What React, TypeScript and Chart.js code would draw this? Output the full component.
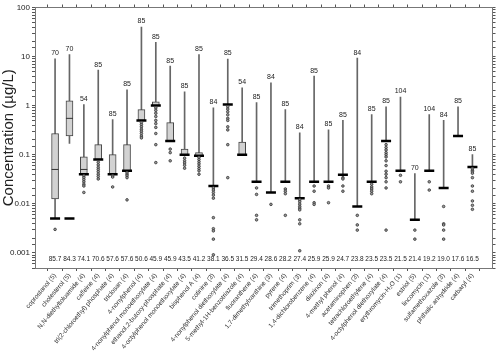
import React, { useEffect, useRef } from 'react';
import { Chart, registerables } from 'chart.js';
Chart.register(...registerables);

const categories = [
  'coprostanol (5)', 'cholesterol (5)', 'N,N-diethyltoluamide (4)', 'caffeine (4)',
  'tri(2-chloroethyl) phosphate (4)', 'triclosan (4)', '4-nonylphenol (4)',
  '4-nonylphenol monoethoxylate (4)', 'ethanol,2-butoxy-phosphate (4)',
  '4-octylphenol monoethoxylate (4)', 'bisphenol A (4)', 'cotinine (3)',
  '4-nonylphenol diethoxylate (4)', '5-methyl-1H-benzotriazole (4)', 'fluoranthene (4)',
  '1,7-dimethylxanthine (3)', 'pyrene (4)', 'trimethoprim (3)', '1,4-dichlorobenzene (4)',
  'diazinon (4)', '4-methyl phenol (4)', 'acetaminophen (3)', 'tetrachloroethylene (4)',
  '4-octylphenol diethoxylate (4)', 'erythromycin-H\u2082O (1)', 'estriol (5)',
  'lincomycin (1)', 'sulfamethoxazole (3)', 'phthalic anhydride (4)', 'carbaryl (4)',
];

const percentDetected = [
  '85.7', '84.3', '74.1', '70.6', '57.6', '57.6', '50.6', '45.9', '45.9', '43.5',
  '41.2', '38.1', '36.5', '31.5', '29.4', '28.6', '28.2', '27.4', '25.9', '25.9',
  '24.7', '23.8', '23.5', '23.5', '21.5', '21.4', '19.2', '19.0', '17.6', '16.5',
];

const sampleCounts = [
  70, 70, 54, 85, 85, 85, 85, 85, 85, 85, 85, 84, 85, 54, 85,
  84, 85, 84, 85, 85, 85, 84, 85, 85, 104, 70, 104, 84, 85, 85,
];

const whiskerTop = [
  9, 11, 1.05, 5.3, 0.52, 2.1, 40, 19.6, 6.4, 1.9, 11, 0.9, 8.9, 2.3, 1.15,
  2.9, 0.83, 0.28, 4.0, 0.32, 0.5, 9.3, 0.66, 0.95, 1.5, 0.041, 0.66, 0.5, 0.95, 0.1,
];

const whiskerLow = [
  0.005, 0.17, 0.04, 0.08, 0.04, 0.047, 0.5, 1.0, 0.19, 0.1, 0.095, 0.023, 1.05, 0.1, 0.028,
  0.017, 0.028, 0.013, 0.028, 0.028, 0.039, 0.0088, 0.028, 0.19, 0.047, 0.0047, 0.047, 0.021, 0.24, 0.056,
];

const boxQ3: (number | null)[] = [
  0.27, 1.25, 0.09, 0.16, 0.1, 0.16, 0.83, 1.2, 0.45, 0.13, 0.11, null, null, 0.18, null,
  null, null, null, null, null, null, null, null, null, null, null, null, null, null, null,
];

const boxQ1: (number | null)[] = [
  0.0125, 0.24, 0.04, 0.08, 0.04, 0.047, 0.5, 1.0, 0.19, 0.1, 0.095, null, null, 0.1, null,
  null, null, null, null, null, null, null, null, null, null, null, null, null, null, null,
];

const medians: (number | null)[] = [
  0.05, 0.55, 0.05, null, null, null, null, null, null, null, null, null, null, null, null,
  null, null, null, null, null, null, null, null, null, null, null, null, null, null, null,
];

const reportingLevel = [
  0.005, 0.005, 0.04, 0.08, 0.04, 0.047, 0.5, 1.0, 0.19, 0.1, 0.095, 0.023, 1.05, 0.1, 0.028,
  0.017, 0.028, 0.013, 0.028, 0.028, 0.039, 0.0088, 0.028, 0.19, 0.047, 0.0047, 0.047, 0.021, 0.24, 0.056,
];

const outliers: number[][] = [
  [0.003],
  [],
  [0.037, 0.034, 0.031, 0.028, 0.025, 0.023, 0.017],
  [0.07, 0.062, 0.055, 0.05, 0.045, 0.04, 0.036, 0.032],
  [0.037, 0.035, 0.022],
  [0.043, 0.04, 0.037, 0.034, 0.012],
  [0.45, 0.41, 0.37, 0.33, 0.3, 0.27, 0.24, 0.22],
  [0.9, 0.8, 0.7, 0.6, 0.5, 0.43, 0.36, 0.27, 0.16, 0.069],
  [0.13, 0.11, 0.075],
  [0.085, 0.075, 0.068, 0.061, 0.053],
  [0.088, 0.08, 0.072, 0.065, 0.058, 0.052, 0.047, 0.04],
  [0.021, 0.019, 0.017, 0.015, 0.013, 0.0052, 0.0031, 0.0028, 0.0019, 0.00091],
  [0.95, 0.85, 0.75, 0.65, 0.55, 0.5, 0.37, 0.32, 0.16, 0.034],
  [],
  [0.021, 0.0155, 0.0058, 0.0047],
  [0.0097],
  [0.02, 0.018, 0.016, 0.0058],
  [0.012, 0.011, 0.0098, 0.0088, 0.0081, 0.0075, 0.0047, 0.0039, 0.0011],
  [0.023, 0.018, 0.0105, 0.0097],
  [0.023, 0.021, 0.0105],
  [0.034, 0.032, 0.023, 0.018],
  [0.0058, 0.0037, 0.0029],
  [0.025, 0.022, 0.02, 0.018, 0.016],
  [0.16, 0.14, 0.125, 0.11, 0.1, 0.09, 0.075, 0.06, 0.046, 0.04, 0.034, 0.028, 0.021, 0.0029],
  [0.038, 0.028],
  [0.0029, 0.0019],
  [0.028, 0.019],
  [0.0088, 0.0039, 0.0037, 0.0029, 0.0019],
  [],
  [0.052, 0.048, 0.045, 0.042, 0.034, 0.023, 0.018, 0.0114, 0.0093, 0.0077],
];

const yTitle = 'Concentration (\u00b5g/L)';
const Y_MIN = 0.00049;
const Y_MAX = 100;
const X_MIN = -0.865;
const X_MAX = 29.865;
const FONT = "'Liberation Sans', Arial, sans-serif";

function pow10Label(v: number): string {
  const lg = Math.log10(v);
  const e = Math.round(lg);
  if (Math.abs(lg - e) > 1e-6) return '';
  return e >= 0 ? String(Math.pow(10, e)) : Math.pow(10, e).toFixed(-e);
}

const categoryTicks = (s: any) => {
  s.ticks = categories.map((_, i) => ({ value: i }));
};

const textPlugin = {
  id: 'annotText',
  afterDatasetsDraw(chart: any) {
    const { ctx, chartArea } = chart;
    const xs = chart.scales.x;
    const ys = chart.scales.y;
    ctx.save();
    ctx.fillStyle = '#222';
    ctx.textAlign = 'center';
    ctx.font = `7px ${FONT}`;
    ctx.textBaseline = 'bottom';
    sampleCounts.forEach((n, i) => {
      ctx.fillText(String(n), xs.getPixelForValue(i), ys.getPixelForValue(whiskerTop[i]) - 2);
    });
    ctx.font = `6.5px ${FONT}`;
    ctx.textBaseline = 'middle';
    percentDetected.forEach((p, i) => {
      ctx.fillText(p, xs.getPixelForValue(i), chartArea.bottom - 9);
    });
    ctx.restore();
  },
};

export default function App() {
  const ref = useRef<HTMLCanvasElement | null>(null);
  useEffect(() => {
    if (!ref.current) return;
    const idx = categories.map((_, i) => i);
    const outlierPts: { x: number; y: number }[] = [];
    outliers.forEach((arr, i) => arr.forEach((v) => outlierPts.push({ x: i, y: v })));

    const gridCommon = {
      drawOnChartArea: false,
      drawTicks: true,
      tickLength: 3,
      color: '#555',
      lineWidth: 1,
    };
    const borderCommon = { display: true, color: '#777', width: 1 };

    const chart = new Chart(ref.current, {
      type: 'bar',
      data: {
        datasets: [
          {
            type: 'scatter',
            label: 'outliers',
            data: outlierPts,
            xAxisID: 'x',
            yAxisID: 'y',
            pointStyle: 'circle',
            pointRadius: 1.3,
            pointBorderWidth: 0.8,
            pointBackgroundColor: '#999',
            pointBorderColor: '#333',
            order: 1,
          } as any,
          {
            type: 'scatter',
            label: 'reporting level',
            data: idx.map((i) => ({ x: i, y: reportingLevel[i] })),
            xAxisID: 'x',
            yAxisID: 'y',
            pointStyle: 'line',
            pointRadius: 5,
            pointBorderWidth: 2.5,
            pointBorderColor: '#000',
            pointBackgroundColor: '#000',
            order: 2,
          } as any,
          {
            type: 'scatter',
            label: 'median',
            data: idx.filter((i) => medians[i] != null).map((i) => ({ x: i, y: medians[i] as number })),
            xAxisID: 'x',
            yAxisID: 'y',
            pointStyle: 'line',
            pointRadius: 3.5,
            pointBorderWidth: 1,
            pointBorderColor: '#333',
            order: 3,
          } as any,
          {
            type: 'bar',
            label: 'box',
            data: idx.filter((i) => boxQ3[i] != null).map((i) => ({ x: i, y: [boxQ1[i] as number, boxQ3[i] as number] })),
            xAxisID: 'x',
            yAxisID: 'y',
            grouped: false,
            barThickness: 7,
            backgroundColor: '#d2d2d2',
            borderColor: '#444',
            borderWidth: 1,
            borderSkipped: false,
            order: 4,
          } as any,
          {
            type: 'bar',
            label: 'whisker',
            data: idx.map((i) => ({ x: i, y: [whiskerLow[i], whiskerTop[i]] })),
            xAxisID: 'x',
            yAxisID: 'y',
            grouped: false,
            barThickness: 1,
            backgroundColor: '#666',
            borderWidth: 0,
            order: 5,
          } as any,
        ],
      },
      options: {
        animation: false,
        responsive: false,
        maintainAspectRatio: false,
        layout: { padding: 0 },
        plugins: {
          legend: { display: false },
          tooltip: { enabled: false },
          title: { display: false },
        },
        scales: {
          x: {
            type: 'linear',
            position: 'bottom',
            min: X_MIN,
            max: X_MAX,
            afterBuildTicks: categoryTicks,
            afterFit: (s: any) => { s.height = 88; },
            ticks: {
              autoSkip: false,
              minRotation: 50,
              maxRotation: 50,
              padding: 1,
              color: '#333',
              font: { size: 6.5, family: FONT },
              callback: (v: any) => categories[v as number] ?? '',
            },
            grid: gridCommon,
            border: borderCommon,
          },
          xTop: {
            type: 'linear',
            position: 'top',
            min: X_MIN,
            max: X_MAX,
            afterBuildTicks: categoryTicks,
            afterFit: (s: any) => { s.height = 5; },
            ticks: { display: false },
            grid: gridCommon,
            border: borderCommon,
          },
          y: {
            type: 'logarithmic',
            position: 'left',
            min: Y_MIN,
            max: Y_MAX,
            afterFit: (s: any) => { s.width = 35; },
            ticks: {
              autoSkip: false,
              padding: 2,
              color: '#222',
              font: { size: 8, family: FONT },
              callback: (v: any) => pow10Label(Number(v)),
            },
            title: {
              display: true,
              text: yTitle,
              color: '#222',
              font: { size: 15, family: FONT },
              padding: 0,
            },
            grid: gridCommon,
            border: borderCommon,
          },
          yRight: {
            type: 'logarithmic',
            position: 'right',
            min: Y_MIN,
            max: Y_MAX,
            afterFit: (s: any) => { s.width = 3; },
            ticks: { display: false },
            grid: gridCommon,
            border: borderCommon,
          },
        },
      } as any,
      plugins: [textPlugin],
    });
    return () => chart.destroy();
  }, []);

  return (
    <div style={{ position: 'absolute', left: 0, top: 0, width: 500, height: 356, background: '#fff' }}>
      <canvas ref={ref} width={500} height={356} style={{ width: 500, height: 356 }} />
    </div>
  );
}
